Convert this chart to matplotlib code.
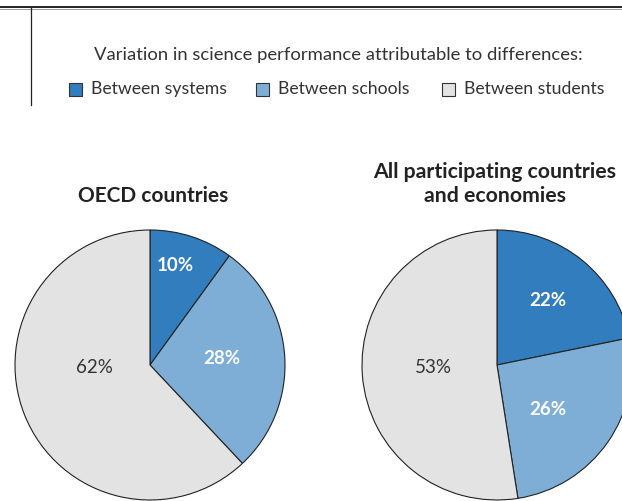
import matplotlib
matplotlib.use("Agg")
import matplotlib.pyplot as plt
from matplotlib.patches import Rectangle
from matplotlib.lines import Line2D

# Data
categories = ["Between systems", "Between schools", "Between students"]
oecd_values = [10, 28, 62]
all_values = [22, 26, 53]
panel_titles = ["OECD countries", "All participating countries\nand economies"]
legend_header = "Variation in science performance attributable to differences:"

colors = ["#317dbd", "#7eaed6", "#e3e3e3"]
label_colors = ["white", "white", "#333333"]
label_weights = ["bold", "bold", "normal"]

FONT = ["Lato", "DejaVu Sans"]
plt.rcParams["font.family"] = FONT

W, H = 622, 501
fig = plt.figure(figsize=(W / 100, H / 100), dpi=100)


def fx(px):
    return px / W


def fy(py):
    return 1 - py / H


# Header rules
fig.add_artist(Line2D([0, 1], [fy(6.5), fy(6.5)], color="#222222", lw=1.4))
fig.add_artist(Line2D([0, 1], [fy(8.5), fy(8.5)], color="#888888", lw=0.6))
fig.add_artist(Line2D([fx(30.5), fx(30.5)], [fy(8), fy(105)], color="#222222", lw=0.9))

# Legend
fig.text(fx(338), fy(55), legend_header, ha="center", va="center",
         fontsize=13.3, color="#333333")
legend_x = [69, 256, 442]
for x, lab, col in zip(legend_x, categories, colors):
    fig.add_artist(Rectangle((fx(x), fy(96)), fx(13), 13 / H, facecolor=col,
                             edgecolor="#333333", lw=0.8))
    fig.text(fx(x + 22), fy(89), lab, ha="left", va="center",
             fontsize=12.7, color="#333333")

# Label positions inside each pie (radius = 1)
label_pos = [
    [(0.185, 0.74), (0.53, 0.045), (-0.41, -0.015)],
    [(0.38, 0.48), (0.38, -0.33), (-0.47, -0.015)],
]

centers_x = [150, 497]
cy, r = 365, 135
for i, (vals, cx) in enumerate(zip([oecd_values, all_values], centers_x)):
    ax = fig.add_axes([fx(cx - r), fy(cy + r), 2 * r / W, 2 * r / H])
    ax.pie(vals, colors=colors, startangle=90, counterclock=False,
           wedgeprops=dict(edgecolor="#222222", linewidth=0.8))
    ax.set_xlim(-1, 1)
    ax.set_ylim(-1, 1)
    ax.set_aspect("auto")
    for v, (px, py), tc, tw in zip(vals, label_pos[i], label_colors, label_weights):
        ax.text(px, py, f"{v}%", ha="center", va="center", fontsize=13.5,
                color=tc, fontweight=tw)

fig.text(fx(153), fy(196), panel_titles[0], ha="center", va="center",
         fontsize=15, fontweight="bold", color="#222222")
fig.text(fx(495), fy(184), panel_titles[1], ha="center", va="center",
         fontsize=15.3, fontweight="bold", color="#222222", linespacing=1.3)

fig.savefig("out.png", dpi=100)
